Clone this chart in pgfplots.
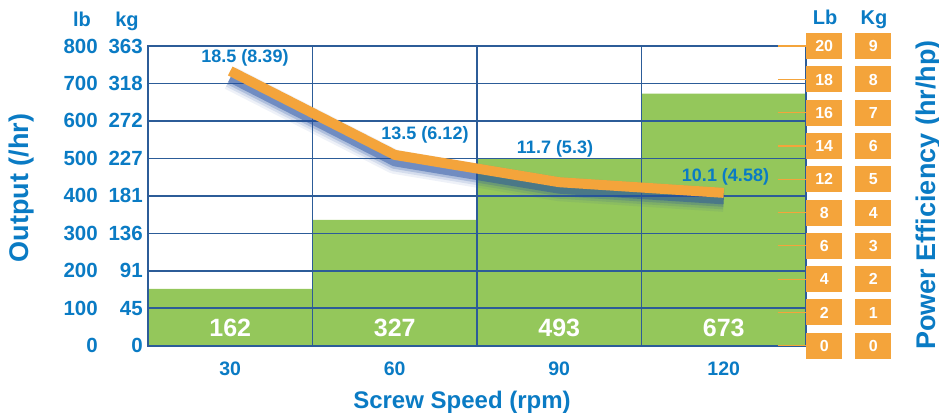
\documentclass[border=0pt]{standalone}
\usepackage{pgfplots}
\pgfplotsset{compat=1.18}
\usepackage{fontspec}
\setmainfont{Liberation Sans}
\definecolor{tblue}{HTML}{0A7BC4}
\definecolor{gblue}{HTML}{2C5C98}
\definecolor{bgreen}{HTML}{94C75B}
\definecolor{lorange}{HTML}{F4A43B}
\definecolor{sblue}{HTML}{2450A0}
\newcommand\lk[2]{\makebox[45pt][r]{#1}\makebox[45pt][r]{#2}}
\setlength{\fboxsep}{0pt}
\newcommand\ob[1]{\colorbox{lorange}{\makebox[36pt]{\rule[-7.3pt]{0pt}{26pt}\textcolor{white}{#1}}}}
\newcommand\rk[2]{\ob{#1}\hspace{13pt}\ob{#2}}
\begin{document}
\begin{tikzpicture}[font=\bfseries]
\path[use as bounding box] (-148pt,-69.3pt) rectangle (791pt,345.7pt);
\begin{axis}[
  at={(0pt,0pt)}, anchor=south west,
  scale only axis, width=658pt, height=299.7pt,
  xmin=-0.5, xmax=3.5, ymin=0, ymax=800,
  axis on top,
  axis line style={gblue, line width=1.8pt},
  xtick={0,1,2,3}, xticklabels={30,60,90,120},
  extra x ticks={0.5,1.5,2.5}, extra x tick labels={},
  extra x tick style={grid=major},
  ytick={0,100,...,800},
  yticklabels={{\lk{0}{0}},{\lk{100}{45}},{\lk{200}{91}},{\lk{300}{136}},{\lk{400}{181}},{\lk{500}{227}},{\lk{600}{272}},{\lk{700}{318}},{\lk{800}{363}}},
  ymajorgrids,
  grid style={gblue, line width=1.6pt},
  major tick length=0pt,
  tick label style={text=tblue, font=\fontsize{20.5}{24}\bfseries},
  yticklabel style={anchor=east, inner sep=0pt, xshift=-5pt},
  xticklabel style={anchor=base, inner sep=0pt, yshift=-30pt, font=\fontsize{19.5}{24}\bfseries},
  /pgf/number format/assume math mode=true,
]
\addplot[ybar, bar width=1, fill=bgreen, draw=none] coordinates {(0,152) (1,336) (2,498) (3,673)};
\end{axis}
\begin{axis}[
  at={(0pt,0pt)}, anchor=south west,
  scale only axis, width=658pt, height=299.7pt,
  xmin=-0.5, xmax=3.5, ymin=0, ymax=9,
  axis x line=none, axis y line*=right,
  y axis line style={draw=none},
  ytick={0,...,9},
  yticklabels={{\rk{0}{0}},{\rk{2}{1}},{\rk{4}{2}},{\rk{6}{3}},{\rk{8}{4}},{\rk{12}{5}},{\rk{14}{6}},{\rk{16}{7}},{\rk{18}{8}},{\rk{20}{9}}},
  yticklabel style={anchor=west, inner sep=0pt, xshift=0pt, font=\fontsize{16}{18}\bfseries},
  tick align=inside, major tick length=28pt,
  tick style={lorange, line width=1.2pt},
  clip=false,
  /pgf/number format/assume math mode=true,
]
\addplot[sblue, line width=24pt, opacity=0.08, yshift=-7pt, line join=round] coordinates {(0,8.25) (1,5.73) (2,4.91) (3,4.59)};
\addplot[sblue, line width=19pt, opacity=0.12, yshift=-7pt, line join=round] coordinates {(0,8.25) (1,5.73) (2,4.91) (3,4.59)};
\addplot[sblue, line width=14pt, opacity=0.22, yshift=-7pt, line join=round] coordinates {(0,8.25) (1,5.73) (2,4.91) (3,4.59)};
\addplot[sblue, line width=9pt, opacity=0.45, yshift=-7pt, line join=round] coordinates {(0,8.25) (1,5.73) (2,4.91) (3,4.59)};
\addplot[lorange, line width=10pt, line join=round] coordinates {(0,8.25) (1,5.73) (2,4.91) (3,4.59)};
\end{axis}
% line labels
\begin{scope}[every node/.style={text=tblue, font=\fontsize{18}{20}\bfseries, anchor=base, inner sep=0pt}]
\node at (97pt,283.4pt) {18.5 (8.39)};
\node at (277pt,205.7pt) {13.5 (6.12)};
\node at (407pt,192.4pt) {11.7 (5.3)};
\node at (577.5pt,164pt) {10.1 (4.58)};
\end{scope}
% bar labels
\begin{scope}[every node/.style={text=white, font=\fontsize{25}{28}\bfseries, anchor=base, inner sep=0pt}]
\node at (82.25pt,9pt) {162};
\node at (246.75pt,9pt) {327};
\node at (411.25pt,9pt) {493};
\node at (575.75pt,9pt) {673};
\end{scope}
% headers
\begin{scope}[every node/.style={text=tblue, font=\fontsize{20}{24}\bfseries, anchor=base, inner sep=0pt}]
\node at (-66pt,319pt) {lb};
\node at (-21pt,319pt) {kg};
\node at (677pt,320.7pt) {Lb};
\node at (726pt,320.7pt) {Kg};
\end{scope}
% axis titles
\node[text=tblue, font=\fontsize{24}{28}\bfseries, anchor=base, inner sep=0pt] at (314pt,-62.6pt) {Screw Speed (rpm)};
\node[text=tblue, font=\fontsize{27}{30}\bfseries, anchor=base, rotate=90, inner sep=0pt] at (-119.5pt,157.7pt) {Output (/hr)};
\node[text=tblue, font=\fontsize{27}{30}\bfseries, anchor=base, rotate=90, inner sep=0pt] at (787pt,150.7pt) {Power Efficiency (hr/hp)};
\end{tikzpicture}
\end{document}
